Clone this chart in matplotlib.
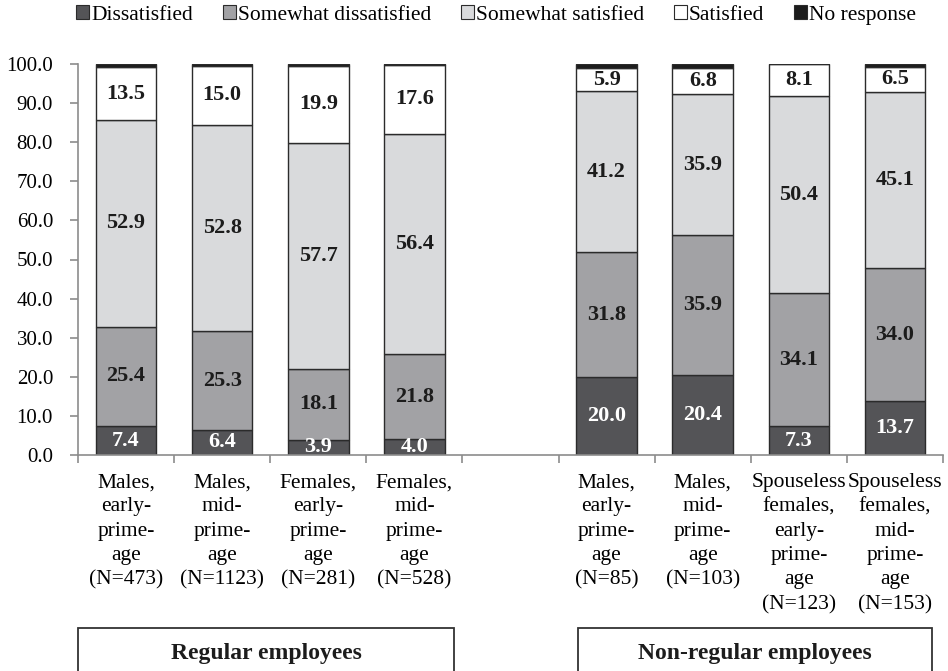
import matplotlib
matplotlib.use("Agg")
import matplotlib.pyplot as plt
from matplotlib.patches import Patch, Rectangle
import numpy as np

plt.rcParams['font.family'] = ['Liberation Serif', 'DejaVu Serif']

categories = [
    "Males,\nearly-\nprime-\nage\n(N=473)",
    "Males,\nmid-\nprime-\nage\n(N=1123)",
    "Females,\nearly-\nprime-\nage\n(N=281)",
    "Females,\nmid-\nprime-\nage\n(N=528)",
    "Males,\nearly-\nprime-\nage\n(N=85)",
    "Males,\nmid-\nprime-\nage\n(N=103)",
    "Spouseless\nfemales,\nearly-\nprime-\nage\n(N=123)",
    "Spouseless\nfemales,\nmid-\nprime-\nage\n(N=153)",
]
series_names = ["Dissatisfied", "Somewhat dissatisfied", "Somewhat satisfied", "Satisfied", "No response"]
dissatisfied = [7.4, 6.4, 3.9, 4.0, 20.0, 20.4, 7.3, 13.7]
somewhat_dissatisfied = [25.4, 25.3, 18.1, 21.8, 31.8, 35.9, 34.1, 34.0]
somewhat_satisfied = [52.9, 52.8, 57.7, 56.4, 41.2, 35.9, 50.4, 45.1]
satisfied = [13.5, 15.0, 19.9, 17.6, 5.9, 6.8, 8.1, 6.5]
no_response = [0.8, 0.5, 0.4, 0.2, 1.1, 1.0, 0.1, 0.7]
groups = ["Regular employees", "Non-regular employees"]

colors = ["#545457", "#a2a2a5", "#d9dadc", "#ffffff", "#1c1c1c"]
label_colors = ["white", "#1c1c1c", "#1c1c1c", "#1c1c1c", None]

series = [dissatisfied, somewhat_dissatisfied, somewhat_satisfied, satisfied, no_response]
positions = np.array([0, 1, 2, 3, 5, 6, 7, 8])

fig = plt.figure(figsize=(9.48, 6.71), dpi=100)
W, H = 948, 671
ax = fig.add_axes([78 / W, (H - 455) / H, (943 - 78) / W, (455 - 64) / H])

bottom = np.zeros(len(positions))
for vals, col, lc in zip(series, colors, label_colors):
    vals = np.array(vals)
    ax.bar(positions, vals, bottom=bottom, width=0.63, color=col,
           edgecolor="#2b2b2b", linewidth=1.0, zorder=2)
    if lc is not None:
        for x, b, v in zip(positions, bottom, vals):
            ax.text(x, b + v / 2, f"{v:.1f}", ha="center", va="center",
                    color=lc, fontsize=16, fontweight="bold", zorder=3, clip_on=True)
    bottom += vals

ax.set_xlim(-0.5, 8.5)
ax.set_ylim(0, 100)
ax.set_yticks(np.arange(0, 101, 10))
ax.set_yticklabels([f"{v:.1f}" for v in np.arange(0, 101, 10)], fontsize=15)
ax.set_xticks(positions)
ax.set_xticklabels(categories, fontsize=15.5, linespacing=1.38)
ax.set_xticks(np.arange(-0.5, 8.6, 1), minor=True)
ax.tick_params(axis="x", which="major", length=0, pad=13)
ax.tick_params(axis="x", which="minor", length=6, color="#8c8c8c", width=1.2, direction="out")
ax.tick_params(axis="y", length=6, color="#8c8c8c", width=1.2, direction="out", pad=12)
for s in ["top", "right"]:
    ax.spines[s].set_visible(False)
for s in ["left", "bottom"]:
    ax.spines[s].set_color("#8c8c8c")
    ax.spines[s].set_linewidth(1.2)

handles = [Patch(facecolor=c, edgecolor="#2b2b2b", linewidth=0.8) for c in colors]
fig.legend(handles, series_names, loc="center", bbox_to_anchor=(496 / W, 1 - 15 / H),
           ncol=5, frameon=False, fontsize=15.5, handlelength=0.6, handleheight=0.6,
           handletextpad=0.08, columnspacing=1.4, borderaxespad=0.0, borderpad=0.0)

# group boxes
boxes = [(78, 454), (578, 932)]
for (x0, x1), g in zip(boxes, groups):
    rect = Rectangle((x0 / W, -0.05), (x1 - x0) / W, (H - 628) / H + 0.05,
                     transform=fig.transFigure, facecolor="white",
                     edgecolor="#333333", linewidth=1.3, clip_on=False)
    fig.patches.append(rect)
    fig.text((x0 + x1) / 2 / W, (H - 653) / H, g, ha="center", va="center",
             fontsize=17, fontweight="bold", color="#1c1c1c")

fig.savefig("out.png", dpi=100)
